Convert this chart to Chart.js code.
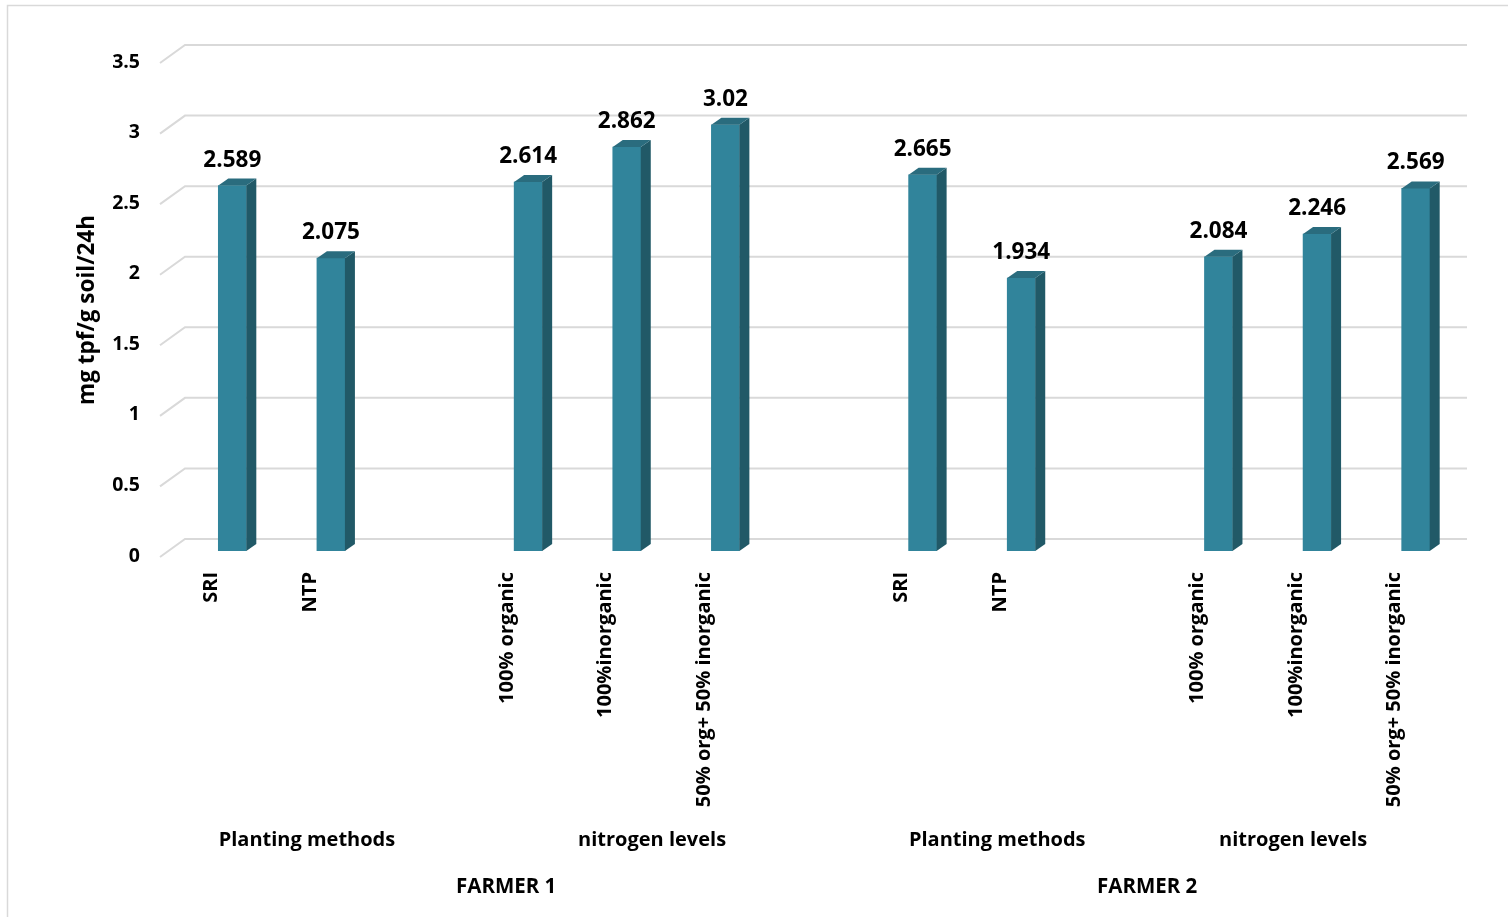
<!DOCTYPE html>
<html>
<head>
<meta charset="utf-8">
<script src="https://cdn.jsdelivr.net/npm/chart.js@4.4.1/dist/chart.umd.min.js"></script>
<style>
  body { margin: 0; background: #fff; }
  #chart { display: block; }
</style>
</head>
<body>
<canvas id="chart" width="1508" height="917"></canvas>
<script>
// categories (empty strings are the spacer slots between groups)
const categories = ['SRI', 'NTP', '', '100% organic', '100%inorganic', '50% org+ 50% inorganic', '',
    'SRI', 'NTP', '', '100% organic', '100%inorganic', '50% org+ 50% inorganic'];
const values = [2.589, 2.075, null, 2.614, 2.862, 3.02, null,
    2.665, 1.934, null, 2.084, 2.246, 2.569];
const yTicks = [0, 0.5, 1, 1.5, 2, 2.5, 3, 3.5];

// group labels: [first index, last index, text]
const subGroups = [[0, 2, 'Planting methods'], [3, 6, 'nitrogen levels'], [7, 9, 'Planting methods'], [10, 12, 'nitrogen levels']];
const farmers = [[0, 6, 'FARMER 1'], [7, 12, 'FARMER 2']];

const FONT = '"Open Sans", Lato, sans-serif';
const frontColor = '#31849b';
const sideColor = '#215967';
const topColor = '#2a6c7e';
const depthX = 10, depthY = 7;

const ctx = document.getElementById('chart').getContext('2d');

// back wall grid with the little diagonal floor lines on the left
const gridPlugin = {
    id: 'grid3d',
    beforeDatasetsDraw(chart) {
        const c = chart.ctx;
        const y = chart.scales.y;
        c.save();
        c.strokeStyle = '#d9d9d9';
        c.lineWidth = 2;
        yTicks.forEach(v => {
            const py = y.getPixelForValue(v);
            c.beginPath();
            c.moveTo(160, py + 6);
            c.lineTo(185, py - 12);
            c.lineTo(1467, py - 12);
            c.stroke();
        });
        c.restore();
    }
};

// side and top faces of the bars + value labels
const barPlugin = {
    id: 'bars3d',
    afterDatasetsDraw(chart) {
        const c = chart.ctx;
        const meta = chart.getDatasetMeta(0);
        c.save();
        meta.data.forEach((bar, i) => {
            if (values[i] == null) return;
            const { x, y, base, width } = bar.getProps(['x', 'y', 'base', 'width'], true);
            const l = x - width / 2, r = x + width / 2;
            c.fillStyle = sideColor;
            c.beginPath();
            c.moveTo(r, y);
            c.lineTo(r + depthX, y - depthY);
            c.lineTo(r + depthX, base - depthY);
            c.lineTo(r, base);
            c.closePath();
            c.fill();
            c.fillStyle = topColor;
            c.beginPath();
            c.moveTo(l, y);
            c.lineTo(l + depthX, y - depthY);
            c.lineTo(r + depthX, y - depthY);
            c.lineTo(r, y);
            c.closePath();
            c.fill();

            c.fillStyle = '#000';
            c.font = 'bold 22.5px ' + FONT;
            c.textAlign = 'center';
            c.textBaseline = 'alphabetic';
            c.fillText(String(values[i]), x, y - 19);
        });
        c.restore();
    }
};

// axis title, group labels and outer border
const labelsPlugin = {
    id: 'extraLabels',
    afterDraw(chart) {
        const c = chart.ctx;
        const xs = chart.scales.x;
        c.save();
        c.fillStyle = '#000';
        c.textAlign = 'center';
        c.textBaseline = 'middle';
        c.font = 'bold 20px ' + FONT;
        subGroups.forEach(([a, b, t]) => {
            const cx = (xs.getPixelForValue(a) + xs.getPixelForValue(b)) / 2 - 24;
            c.fillText(t, cx, 840);
        });
        c.font = 'bold 20.5px ' + FONT;
        farmers.forEach(([a, b, t]) => {
            const cx = (xs.getPixelForValue(a) + xs.getPixelForValue(b)) / 2 - 22;
            c.fillText(t, cx, 887);
        });

        c.translate(88, 310);
        c.rotate(-Math.PI / 2);
        c.font = 'bold 22.5px ' + FONT;
        c.fillText('mg tpf/g soil/24h', 0, 0);
        c.restore();

        c.save();
        c.strokeStyle = '#d9d9d9';
        c.lineWidth = 1.5;
        c.strokeRect(7.5, 5.5, 1520, 930);
        c.restore();
    }
};

new Chart(ctx, {
    type: 'bar',
    data: {
        labels: categories,
        datasets: [{
            data: values,
            backgroundColor: frontColor,
            barThickness: 28,
            borderWidth: 0
        }]
    },
    plugins: [gridPlugin, barPlugin, labelsPlugin],
    options: {
        responsive: false,
        animation: false,
        layout: {
            padding: { left: 0, top: 57, right: 43, bottom: 0 }
        },
        plugins: {
            legend: { display: false },
            tooltip: { enabled: false }
        },
        scales: {
            x: {
                grid: { display: false, drawTicks: false },
                border: { display: false },
                afterFit(scale) { scale.height = 917 - 551; },
                ticks: {
                    color: '#000',
                    font: { family: FONT, size: 20, weight: 'bold' },
                    minRotation: 90,
                    maxRotation: 90,
                    autoSkip: false,
                    padding: 21,
                    labelOffset: -21
                }
            },
            y: {
                min: 0,
                max: 3.5,
                grid: { display: false, drawTicks: false },
                border: { display: false },
                afterFit(scale) { scale.width = 183; },
                afterBuildTicks(scale) { scale.ticks = yTicks.map(v => ({ value: v })); },
                ticks: {
                    color: '#000',
                    font: { family: FONT, size: 19.5, weight: 'bold' },
                    padding: 43,
                    labelOffset: 5,
                    callback: v => String(v)
                }
            }
        }
    }
});
</script>
</body>
</html>
